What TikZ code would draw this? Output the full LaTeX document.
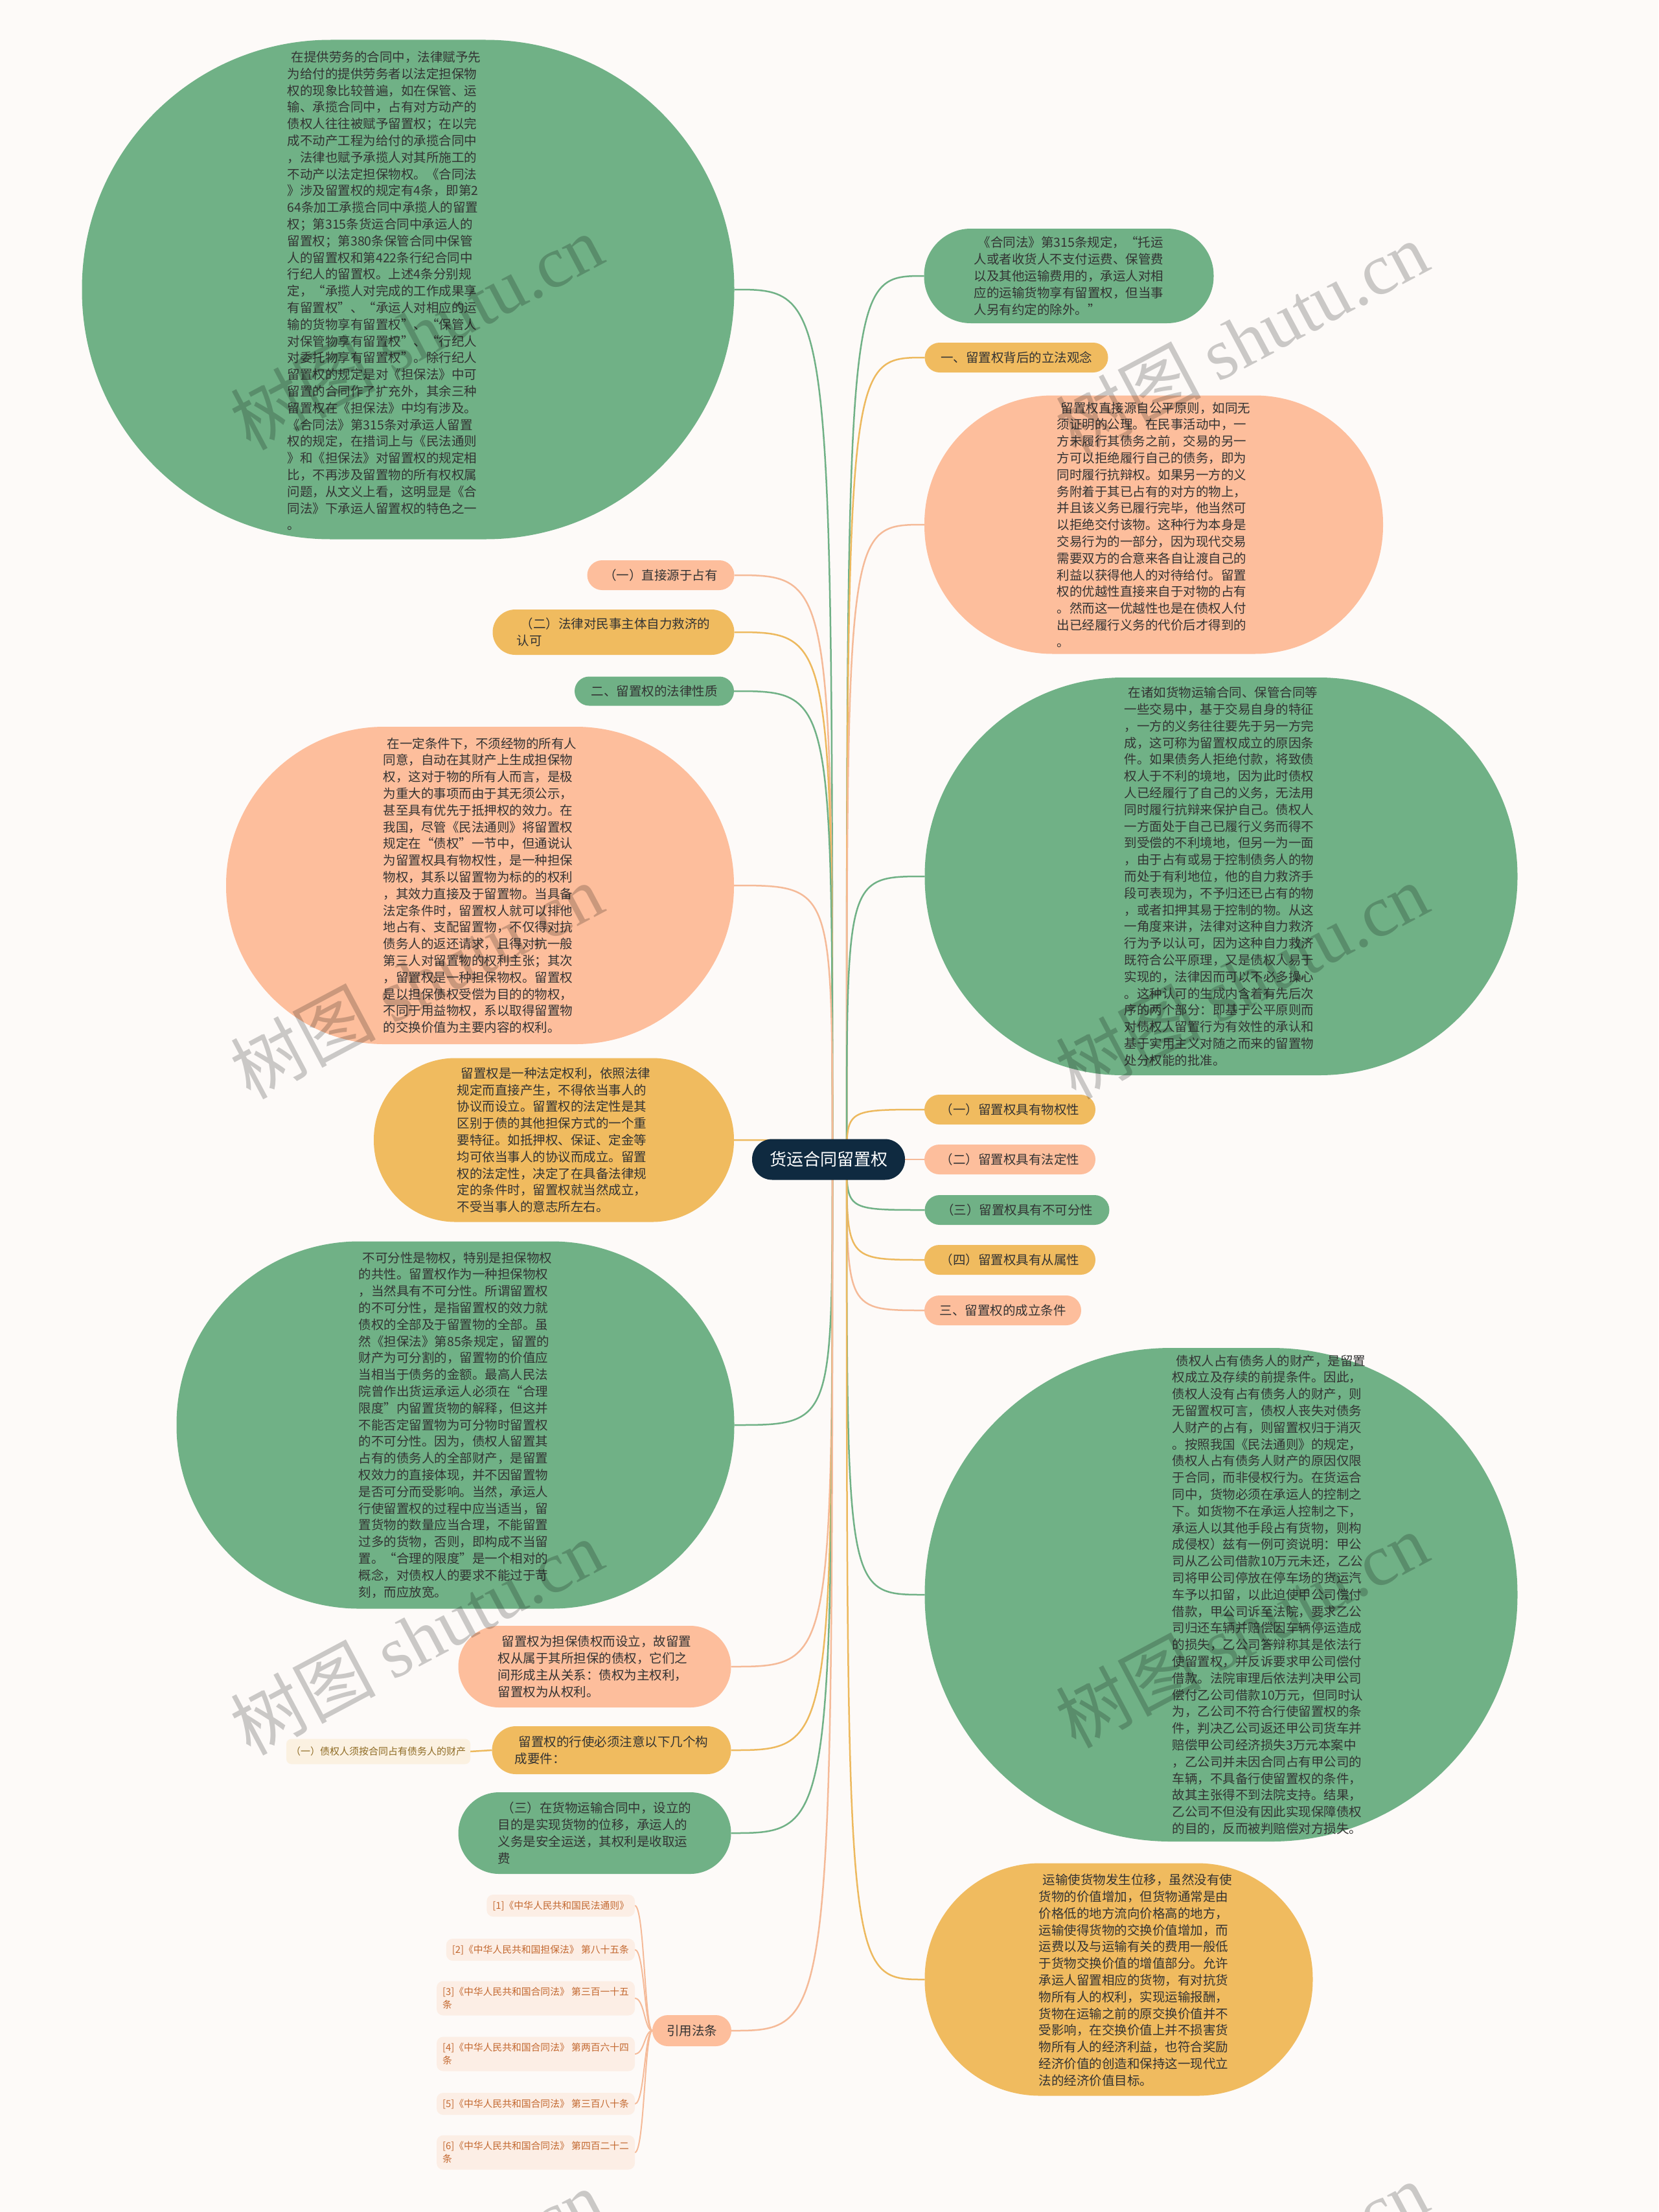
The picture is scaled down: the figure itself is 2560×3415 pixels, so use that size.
\documentclass[tikz,border=0pt]{standalone}
\usepackage{fontspec}
\setmainfont{Noto Sans CJK SC}
\newfontfamily\wmlatin{Liberation Serif}
\usetikzlibrary{calc}
\definecolor{bgc}{HTML}{FDFAF8}
\definecolor{grn}{HTML}{70B186}
\definecolor{pch}{HTML}{FDBE9C}
\definecolor{ylw}{HTML}{F0BB5F}
\definecolor{navy}{HTML}{0F2A40}
\definecolor{txt}{HTML}{333333}
\definecolor{refbg}{HTML}{FCEEE5}
\definecolor{reftx}{HTML}{C3682F}
\definecolor{crm}{HTML}{FBF1E1}
\definecolor{crmtx}{HTML}{8E6B24}
\definecolor{grnl}{HTML}{70B186}
\definecolor{pchl}{HTML}{F5BA98}
\definecolor{ylwl}{HTML}{EDB95E}
\newcommand\leadsp{\hspace*{0.3em}}
\pgfdeclarelayer{back}
\pgfdeclarelayer{edges}
\pgfsetlayers{back,edges,main}
\begin{document}
\begin{tikzpicture}[x=0.5pt,y=-0.5pt,
  txtbase/.style={inner sep=0pt, outer sep=0pt, text=txt, font=\fontsize{9.75}{12.9}\selectfont},
  bignode/.style={txtbase, align=left},
  pillnode/.style={txtbase, align=center},
  shapenode/.style={inner sep=0pt, outer sep=0pt},
  conn/.style={line width=1.25pt},
  refnode/.style={fill=refbg, rounded corners=5pt, inner xsep=4.5pt, inner ysep=2pt, outer sep=0pt, text=reftx, font=\fontsize{7.4}{10}\selectfont, align=left, anchor=east},
  wm/.style={text=black, opacity=0.2, font=\fontsize{56}{60}\selectfont, rotate=28, inner sep=0pt}
]
\begin{pgfonlayer}{back}
\fill[bgc] (0,0) rectangle (2560,3415);
\end{pgfonlayer}
\useasboundingbox (0,0) rectangle (2560,3415);

% ---------- center ----------
\node[pillnode, fill=navy, text=white, minimum width=118pt, minimum height=31.5pt, rounded corners=15.5pt, font=\fontsize{13}{15}\selectfont] (C) at (1279,1790) {货运合同留置权};
\coordinate (cR) at (1307,1790);
\coordinate (cL) at (1285,1790);

% ---------- right side ----------
\node[bignode, fill=grn, minimum width=223.5pt, minimum height=73pt, rounded corners=36pt] (R1) at (1650,426) {\leadsp《合同法》第315条规定，“托运\\人或者收货人不支付运费、保管费\\以及其他运输费用的，承运人对相\\应的运输货物享有留置权，但当事\\人另有约定的除外。”};

\node[pillnode, fill=ylw, minimum width=141.5pt, minimum height=23pt, rounded corners=11.5pt] (R2) at (1569,552) {一、留置权背后的立法观念};

\node[bignode, fill=pch, minimum width=354pt, minimum height=199.5pt, rounded corners=99pt] (R3) at (1781,810) {\leadsp 留置权直接源自公平原则，如同无\\须证明的公理。在民事活动中，一\\方未履行其债务之前，交易的另一\\方可以拒绝履行自己的债务，即为\\同时履行抗辩权。如果另一方的义\\务附着于其已占有的对方的物上，\\并且该义务已履行完毕，他当然可\\以拒绝交付该物。这种行为本身是\\交易行为的一部分，因为现代交易\\需要双方的合意来各自让渡自己的\\利益以获得他人的对待给付。留置\\权的优越性直接来自于对物的占有\\。然而这一优越性也是在债权人付\\出已经履行义务的代价后才得到的\\。};

\node[bignode, fill=grn, minimum width=457.5pt, minimum height=307pt, rounded corners=153pt] (R4) at (1885,1353) {\leadsp 在诸如货物运输合同、保管合同等\\一些交易中，基于交易自身的特征\\，一方的义务往往要先于另一方完\\成，这可称为留置权成立的原因条\\件。如果债务人拒绝付款，将致债\\权人于不利的境地，因为此时债权\\人已经履行了自己的义务，无法用\\同时履行抗辩来保护自己。债权人\\一方面处于自己已履行义务而得不\\到受偿的不利境地，但另一为一面\\，由于占有或易于控制债务人的物\\而处于有利地位，他的自力救济手\\段可表现为，不予归还已占有的物\\，或者扣押其易于控制的物。从这\\一角度来讲，法律对这种自力救济\\行为予以认可，因为这种自力救济\\既符合公平原理，又是债权人易于\\实现的，法律因而可以不必多操心\\。这种认可的生成内含着有先后次\\序的两个部分：即基于公平原则而\\对债权人留置行为有效性的承认和\\基于实用主义对随之而来的留置物\\处分权能的批准。};

\node[pillnode, fill=ylw, minimum width=132pt, minimum height=23pt, rounded corners=11.5pt] (R5) at (1559,1713) {（一）留置权具有物权性};
\node[pillnode, fill=pch, minimum width=132pt, minimum height=23pt, rounded corners=11.5pt] (R6) at (1559,1790) {（二）留置权具有法定性};
\node[pillnode, fill=grn, minimum width=142.5pt, minimum height=23pt, rounded corners=11.5pt] (R7) at (1570,1868) {（三）留置权具有不可分性};
\node[pillnode, fill=ylw, minimum width=132pt, minimum height=23pt, rounded corners=11.5pt] (R8) at (1559,1945) {（四）留置权具有从属性};
\node[pillnode, fill=pch, minimum width=121pt, minimum height=23pt, rounded corners=11.5pt] (R9) at (1548,2023) {三、留置权的成立条件};

\node[shapenode, fill=grn, minimum width=457.5pt, minimum height=381pt, rounded corners=190pt] (R10S) at (1885,2462) {};
\node[bignode] (R10) at (1959,2462) {\leadsp 债权人占有债务人的财产，是留置\\权成立及存续的前提条件。因此，\\债权人没有占有债务人的财产，则\\无留置权可言，债权人丧失对债务\\人财产的占有，则留置权归于消灭\\。按照我国《民法通则》的规定，\\债权人占有债务人财产的原因仅限\\于合同，而非侵权行为。在货运合\\同中，货物必须在承运人的控制之\\下。如货物不在承运人控制之下，\\承运人以其他手段占有货物，则构\\成侵权）兹有一例可资说明：甲公\\司从乙公司借款10万元未还，乙公\\司将甲公司停放在停车场的货运汽\\车予以扣留，以此迫使甲公司偿付\\借款，甲公司诉至法院，要求乙公\\司归还车辆并赔偿因车辆停运造成\\的损失，乙公司答辩称其是依法行\\使留置权，并反诉要求甲公司偿付\\借款。法院审理后依法判决甲公司\\偿付乙公司借款10万元，但同时认\\为，乙公司不符合行使留置权的条\\件，判决乙公司返还甲公司货车并\\赔偿甲公司经济损失3万元本案中\\，乙公司并未因合同占有甲公司的\\车辆，不具备行使留置权的条件，\\故其主张得不到法院支持。结果，\\乙公司不但没有因此实现保障债权\\的目的，反而被判赔偿对方损失。};

\node[shapenode, fill=ylw, minimum width=299.5pt, minimum height=179.5pt, rounded corners=89pt] (R11S) at (1727,3056) {};
\node[bignode] (R11) at (1753,3057) {\leadsp 运输使货物发生位移，虽然没有使\\货物的价值增加，但货物通常是由\\价格低的地方流向价格高的地方，\\运输使得货物的交换价值增加，而\\运费以及与运输有关的费用一般低\\于货物交换价值的增值部分。允许\\承运人留置相应的货物，有对抗货\\物所有人的权利，实现运输报酬，\\货物在运输之前的原交换价值并不\\受影响，在交换价值上并不损害货\\物所有人的经济利益，也符合奖励\\经济价值的创造和保持这一现代立\\法的经济价值目标。};

% ---------- left side ----------
\node[shapenode, fill=grn, minimum width=503.5pt, minimum height=385.5pt, rounded corners=192pt] (L1S) at (630,447) {};
\node[bignode] (L1) at (593,449) {\leadsp 在提供劳务的合同中，法律赋予先\\为给付的提供劳务者以法定担保物\\权的现象比较普遍，如在保管、运\\输、承揽合同中，占有对方动产的\\债权人往往被赋予留置权；在以完\\成不动产工程为给付的承揽合同中\\，法律也赋予承揽人对其所施工的\\不动产以法定担保物权。《合同法\\》涉及留置权的规定有4条，即第2\\64条加工承揽合同中承揽人的留置\\权；第315条货运合同中承运人的\\留置权；第380条保管合同中保管\\人的留置权和第422条行纪合同中\\行纪人的留置权。上述4条分别规\\定，“承揽人对完成的工作成果享\\有留置权”、“承运人对相应的运\\输的货物享有留置权”、“保管人\\对保管物享有留置权”、“行纪人\\对委托物享有留置权”。除行纪人\\留置权的规定是对《担保法》中可\\留置的合同作了扩充外，其余三种\\留置权在《担保法》中均有涉及。\\《合同法》第315条对承运人留置\\权的规定，在措词上与《民法通则\\》和《担保法》对留置权的规定相\\比，不再涉及留置物的所有权权属\\问题，从文义上看，这明显是《合\\同法》下承运人留置权的特色之一\\。};

\node[pillnode, fill=pch, minimum width=113.5pt, minimum height=23pt, rounded corners=11.5pt] (L2) at (1020,888) {（一）直接源于占有};
\node[bignode, fill=ylw, minimum width=186.5pt, minimum height=35pt, rounded corners=17.5pt] (L3) at (947,976) {\leadsp（二）法律对民事主体自力救济的\\认可};
\node[pillnode, fill=grn, minimum width=123pt, minimum height=22.5pt, rounded corners=11.25pt] (L4) at (1010,1067) {二、留置权的法律性质};

\node[bignode, fill=pch, minimum width=392pt, minimum height=245pt, rounded corners=122pt] (L5) at (741,1367) {\leadsp 在一定条件下，不须经物的所有人\\同意，自动在其财产上生成担保物\\权，这对于物的所有人而言，是极\\为重大的事项而由于其无须公示，\\甚至具有优先于抵押权的效力。在\\我国，尽管《民法通则》将留置权\\规定在“债权”一节中，但通说认\\为留置权具有物权性，是一种担保\\物权，其系以留置物为标的的权利\\，其效力直接及于留置物。当具备\\法定条件时，留置权人就可以排他\\地占有、支配留置物，不仅得对抗\\债务人的返还请求，且得对抗一般\\第三人对留置物的权利主张；其次\\，留置权是一种担保物权。留置权\\是以担保债权受偿为目的的物权，\\不同于用益物权，系以取得留置物\\的交换价值为主要内容的权利。};

\node[bignode, fill=ylw, minimum width=278pt, minimum height=126.5pt, rounded corners=63pt] (L6) at (855,1760) {\leadsp 留置权是一种法定权利，依照法律\\规定而直接产生，不得依当事人的\\协议而设立。留置权的法定性是其\\区别于债的其他担保方式的一个重\\要特征。如抵押权、保证、定金等\\均可依当事人的协议而成立。留置\\权的法定性，决定了在具备法律规\\定的条件时，留置权就当然成立，\\不受当事人的意志所左右。};

\node[bignode, fill=grn, minimum width=430.5pt, minimum height=283.5pt, rounded corners=141pt] (L7) at (703,2200) {\leadsp 不可分性是物权，特别是担保物权\\的共性。留置权作为一种担保物权\\，当然具有不可分性。所谓留置权\\的不可分性，是指留置权的效力就\\债权的全部及于留置物的全部。虽\\然《担保法》第85条规定，留置的\\财产为可分割的，留置物的价值应\\当相当于债务的金额。最高人民法\\院曾作出货运承运人必须在“合理\\限度”内留置货物的解释，但这并\\不能否定留置物为可分物时留置权\\的不可分性。因为，债权人留置其\\占有的债务人的全部财产，是留置\\权效力的直接体现，并不因留置物\\是否可分而受影响。当然，承运人\\行使留置权的过程中应当适当，留\\置货物的数量应当合理，不能留置\\过多的货物，否则，即构成不当留\\置。“合理的限度”是一个相对的\\概念，对债权人的要求不能过于苛\\刻，而应放宽。};

\node[bignode, fill=pch, minimum width=210.5pt, minimum height=63pt, rounded corners=31.5pt] (L8) at (918,2573) {\leadsp 留置权为担保债权而设立，故留置\\权从属于其所担保的债权，它们之\\间形成主从关系：债权为主权利，\\留置权为从权利。};

\node[bignode, fill=ylw, minimum width=184.5pt, minimum height=37pt, rounded corners=18.5pt] (L9) at (944,2702) {\leadsp 留置权的行使必须注意以下几个构\\成要件：};

\node[pillnode, fill=crm, text=crmtx, minimum width=142pt, minimum height=19.5pt, rounded corners=4pt, font=\fontsize{7.5}{9}\selectfont] (L9a) at (584,2704) {（一）债权人须按合同占有债务人的财产};

\node[bignode, fill=grn, minimum width=210.5pt, minimum height=63pt, rounded corners=31.5pt] (L10) at (918,2830) {\leadsp（三）在货物运输合同中，设立的\\目的是实现货物的位移，承运人的\\义务是安全运送，其权利是收取运\\费};

\node[pillnode, fill=pch, minimum width=61pt, minimum height=24pt, rounded corners=12pt] (L11) at (1068,3135) {引用法条};

% references
\node[refnode, minimum height=17pt] (ref1) at (980,2942) {[1]《中华人民共和国民法通则》};
\node[refnode, minimum height=17pt] (ref2) at (980,3010) {[2]《中华人民共和国担保法》 第八十五条};
\node[refnode, minimum height=26.5pt] (ref3) at (980,3085) {[3]《中华人民共和国合同法》 第三百一十五\\条};
\node[refnode, minimum height=26.5pt] (ref4) at (980,3171) {[4]《中华人民共和国合同法》 第两百六十四\\条};
\node[refnode, minimum height=17pt] (ref5) at (980,3248) {[5]《中华人民共和国合同法》 第三百八十条};
\node[refnode, minimum height=26.5pt] (ref6) at (980,3323) {[6]《中华人民共和国合同法》 第四百二十二\\条};
\coordinate (rt) at (995,3135);

% ---------- connectors ----------
\begin{pgfonlayer}{edges}
\draw[conn, grnl] (cR) .. controls (cR |- R1.west) .. (R1.west);
\draw[conn, ylwl] (cR) .. controls (cR |- R2.west) .. (R2.west);
\draw[conn, pchl] (cR) .. controls (cR |- R3.west) .. (R3.west);
\draw[conn, grnl] (cR) .. controls (cR |- R4.west) .. (R4.west);
\draw[conn, ylwl] (cR) .. controls (cR |- R5.west) .. (R5.west);
\draw[conn, pchl] (cR) .. controls (cR |- R6.west) .. (R6.west);
\draw[conn, grnl] (cR) .. controls (cR |- R7.west) .. (R7.west);
\draw[conn, ylwl] (cR) .. controls (cR |- R8.west) .. (R8.west);
\draw[conn, pchl] (cR) .. controls (cR |- R9.west) .. (R9.west);
\draw[conn, grnl] (cR) .. controls (cR |- R10S.west) .. (R10S.west);
\draw[conn, ylwl] (cR) .. controls (cR |- R11S.west) .. (R11S.west);

\draw[conn, grnl] (cL) .. controls (cL |- L1S.east) .. (L1S.east);
\draw[conn, pchl] (cL) .. controls (cL |- L2.east) .. (L2.east);
\draw[conn, ylwl] (cL) .. controls (cL |- L3.east) .. (L3.east);
\draw[conn, grnl] (cL) .. controls (cL |- L4.east) .. (L4.east);
\draw[conn, pchl] (cL) .. controls (cL |- L5.east) .. (L5.east);
\draw[conn, ylwl] (cL) .. controls (cL |- L6.east) .. (L6.east);
\draw[conn, grnl] (cL) .. controls (cL |- L7.east) .. (L7.east);
\draw[conn, pchl] (cL) .. controls (cL |- L8.east) .. (L8.east);
\draw[conn, ylwl] (cL) .. controls (cL |- L9.east) .. (L9.east);
\draw[conn, grnl] (cL) .. controls (cL |- L10.east) .. (L10.east);
\draw[conn, pchl] (cL) .. controls (cL |- L11.east) .. (L11.east);

\draw[conn, ylwl] (L9.west) -- (L9a.east);

\foreach \r in {ref1,ref2,ref3,ref4,ref5,ref6}
  \draw[line width=1pt, pchl] (L11.west) .. controls (rt |- L11.west) and (rt |- \r.east) .. (\r.east);
\end{pgfonlayer}

% ---------- watermarks ----------
\node[wm] (wm1) at (643,512) {树图 {\wmlatin shutu.cn}};
\node[wm] (wm2) at (1917,523) {树图 {\wmlatin shutu.cn}};
\node[wm] (wm3) at (643,1514) {树图 {\wmlatin shutu.cn}};
\node[wm] (wm4) at (1917,1514) {树图 {\wmlatin shutu.cn}};
\node[wm] (wm5) at (643,2527) {树图 {\wmlatin shutu.cn}};
\node[wm] (wm6) at (1917,2516) {树图 {\wmlatin shutu.cn}};
\node[wm] (wm7) at (643,3530) {树图 {\wmlatin shutu.cn}};
\node[wm] (wm8) at (1917,3519) {树图 {\wmlatin shutu.cn}};
\end{tikzpicture}
\end{document}
